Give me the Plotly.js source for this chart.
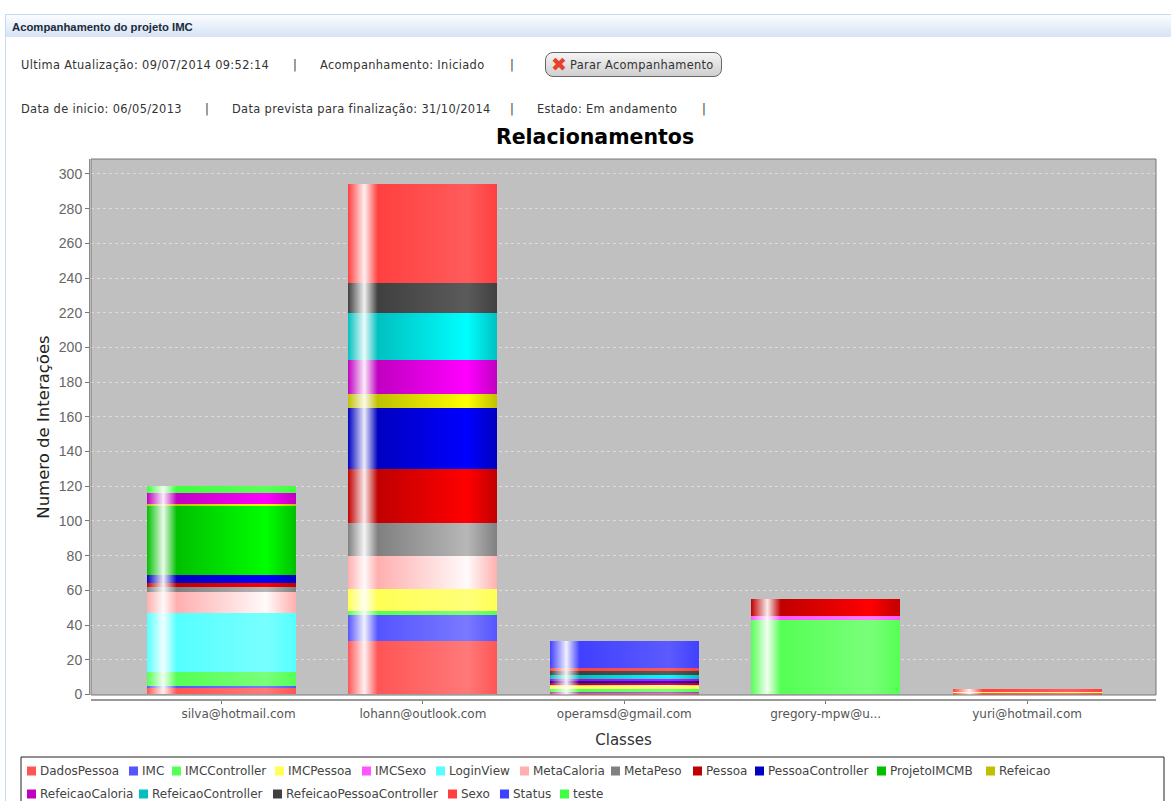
<!DOCTYPE html>
<html lang="pt">
<head>
<meta charset="utf-8">
<script src="https://cdn.plot.ly/plotly-3.0.1.min.js"></script>
<style>
html,body{margin:0;padding:0;background:#fff;width:1171px;height:801px;overflow:hidden;font-family:"DejaVu Sans",sans-serif}
#chart{position:absolute;left:0;top:0;width:1171px;height:801px}
.h{position:absolute;z-index:2;white-space:pre;font-size:11.4px;letter-spacing:.35px;color:#333;line-height:14px}
#panel{position:absolute;z-index:2;left:5px;top:14px;width:1166px;height:787px;border-left:1px solid #c5d9f0;border-top:1px solid #c5d9f0;box-sizing:border-box;pointer-events:none}
#bar{position:absolute;z-index:2;left:6px;top:15px;width:1165px;height:22px;background:linear-gradient(#fbfdff,#d5e3f4)}
#btn{position:absolute;z-index:2;left:545px;top:52px;width:177px;height:25px;box-sizing:border-box;border:1px solid #666;border-radius:8px;background:linear-gradient(#f4f4f4,#cfcfcf);font-size:11.4px;letter-spacing:.3px;color:#333;line-height:24px;padding-left:24px;white-space:pre}
#btn b{position:absolute;left:5px;top:0;color:#e8402a;font-size:19px;line-height:23px;letter-spacing:0}
</style>
</head>
<body>
<div id="chart"></div>
<div id="panel"></div>
<div id="bar"></div>
<div class="h" style="left:12px;top:20px;font-weight:bold;font-family:'Liberation Sans';font-size:11.3px;letter-spacing:0;color:#1c2a3a">Acompanhamento do projeto IMC</div>
<div class="h" style="left:21px;top:58px">Ultima Atualização: 09/07/2014 09:52:14</div>
<div class="h" style="left:293px;top:58px">|</div>
<div class="h" style="left:320px;top:58px">Acompanhamento: Iniciado</div>
<div class="h" style="left:510px;top:58px">|</div>
<div id="btn"><b>✖</b>Parar Acompanhamento</div>
<div class="h" style="left:21px;top:102px">Data de inicio: 06/05/2013</div>
<div class="h" style="left:205px;top:102px">|</div>
<div class="h" style="left:232px;top:102px">Data prevista para finalização: 31/10/2014</div>
<div class="h" style="left:510px;top:102px">|</div>
<div class="h" style="left:537px;top:102px">Estado: Em andamento</div>
<div class="h" style="left:702px;top:102px">|</div>
<script>
const classes = ['silva@hotmail.com','lohann@outlook.com','operamsd@gmail.com','gregory-mpw@u...','yuri@hotmail.com'];
const seriesNames = ['DadosPessoa','IMC','IMCController','IMCPessoa','IMCSexo','LoginView','MetaCaloria','MetaPeso','Pessoa','PessoaController','ProjetoIMCMB','Refeicao','RefeicaoCaloria','RefeicaoController','RefeicaoPessoaController','Sexo','Status','teste'];
const colors = ['#FF5555','#5555FF','#55FF55','#FFFF55','#FF55FF','#55FFFF','#FFAFAF','#808080','#C00000','#0000C0','#00C000','#C0C000','#C000C0','#00C0C0','#404040','#FF4040','#4040FF','#40FF40'];
const DadosPessoa = [4,31,1,0,1];
const IMC = [1,15,1,0,0];
const IMCController = [8,2,1,43,0];
const IMCPessoa = [0,13,2,0,1];
const IMCSexo = [0,0,0,2,0];
const LoginView = [34,0,0,0,0];
const MetaCaloria = [12,19,1,0,0];
const MetaPeso = [3,19,0,0,0];
const Pessoa = [2,31,1,10,0];
const PessoaController = [5,35,1,0,0];
const ProjetoIMCMB = [40,0,0,0,0];
const Refeicao = [1,8,0,0,0];
const RefeicaoCaloria = [6,20,1,0,0];
const RefeicaoController = [0,27,2,0,0];
const RefeicaoPessoaController = [0,17,3,0,0];
const Sexo = [0,57,1,0,1];
const Status = [0,0,16,0,0];
const teste = [4,0,0,0,0];
const seriesValues = [DadosPessoa,IMC,IMCController,IMCPessoa,IMCSexo,LoginView,MetaCaloria,MetaPeso,Pessoa,PessoaController,ProjetoIMCMB,Refeicao,RefeicaoCaloria,RefeicaoController,RefeicaoPessoaController,Sexo,Status,teste];

// page-pixel geometry of the figure
const W=1171,H=801,mL=89,mR=15,mT=159,mB=101;
const px=x=>(x-mL)/(W-mL-mR), py=y=>(H-mB-y)/(H-mT-mB);
const legendRows=[
 {y:771,items:[[0,27],[1,129],[2,172],[3,275],[4,362],[5,436],[6,520],[7,611],[8,693],[9,755],[10,877],[11,986]]},
 {y:794,items:[[12,27],[13,139],[14,273],[15,448],[16,500],[17,560]]}
];
const shapes=[
 {type:'rect',xref:'x domain',yref:'y domain',x0:0,x1:1,y0:0,y1:1,line:{color:'#777',width:1},layer:'above'},
 {type:'rect',xref:'paper',yref:'paper',x0:px(21),x1:px(1164),y0:py(757),y1:py(806),line:{color:'#222',width:1},fillcolor:'#fff'}
];
const annotations=[];
legendRows.forEach(r=>r.items.forEach(([i,x])=>{
  shapes.push({type:'rect',xref:'paper',yref:'paper',x0:px(x),x1:px(x+9),y0:py(r.y-4.5),y1:py(r.y+4.5),line:{width:0},fillcolor:colors[i]});
  annotations.push({xref:'paper',yref:'paper',x:px(x+11),y:py(r.y),xanchor:'left',yanchor:'middle',showarrow:false,text:seriesNames[i],font:{family:'DejaVu Sans',size:12,color:'#444'}});
}));

const traces=seriesNames.map((n,i)=>({type:'bar',name:n,x:classes,y:seriesValues[i],width:0.74,marker:{color:colors[i],line:{width:0}},hoverinfo:'x+y+name'}));
const layout={
 width:W,height:H,barmode:'stack',showlegend:false,
 paper_bgcolor:'#fff',plot_bgcolor:'#c0c0c0',
 margin:{l:mL,r:mR,t:mT,b:mB,pad:0},
 title:{text:'Relacionamentos',x:595/W,xref:'container',xanchor:'center',y:1-137/H,yref:'container',yanchor:'middle',font:{family:'DejaVu Sans',size:20.5,weight:'bold',color:'#000'}},
 xaxis:{type:'category',domain:[px(91),1],anchor:'free',position:0,range:[-0.648,4.64],showgrid:false,zeroline:false,
   showline:true,linecolor:'#999',linewidth:2,ticks:'outside',ticklen:3,tickcolor:'#777',
   tickfont:{family:'DejaVu Sans',size:12,color:'#555'},automargin:false,
   title:{text:'Classes',font:{family:'DejaVu Sans',size:15,color:'#333'},standoff:13}},
 yaxis:{domain:[py(695),1],anchor:'free',position:0,range:[-0.3,308.6],tickvals:[0,20,40,60,80,100,120,140,160,180,200,220,240,260,280,300],
   showgrid:true,gridcolor:'#dcdcdc',griddash:'dot',gridwidth:1,zeroline:false,
   showline:true,linecolor:'#888',linewidth:1,ticks:'outside',ticklen:4,tickcolor:'#777',
   tickfont:{family:'Liberation Sans',size:14,color:'#666'},automargin:false,
   title:{text:'Numero de Interações',font:{family:'DejaVu Sans',size:16.5,color:'#222'},standoff:4}},
 shapes,annotations,bargap:0
};

function brighter(hex){
  const v=[1,3,5].map(k=>parseInt(hex.substr(k,2),16));
  return 'rgb('+v.map(c=>Math.min(255,Math.round(c/0.7))).join(',')+')';
}
function mix(hex,t){
  const v=[1,3,5].map(k=>parseInt(hex.substr(k,2),16));
  return 'rgb('+v.map(c=>Math.round(c+(255-c)*t)).join(',')+')';
}
function applyGradients(gd){
  const svg=gd.querySelector('.main-svg'),NS='http://www.w3.org/2000/svg';
  let defs=svg.querySelector('defs#barGrad');
  if(defs)defs.remove();
  defs=document.createElementNS(NS,'defs');defs.id='barGrad';svg.insertBefore(defs,svg.firstChild);
  colors.forEach((c,i)=>{
    const g=document.createElementNS(NS,'linearGradient');
    g.id='bg'+i;g.setAttribute('x1','0');g.setAttribute('x2','1');g.setAttribute('y1','0');g.setAttribute('y2','0');
    [[0,c],[0.11,mix(c,0.92)],[0.2,c],[0.8,brighter(c)],[1,c]].forEach(([o,col])=>{
      const s=document.createElementNS(NS,'stop');s.setAttribute('offset',o);s.setAttribute('stop-color',col);g.appendChild(s);
    });
    defs.appendChild(g);
  });
  gd.querySelectorAll('.barlayer .trace').forEach((t,i)=>{
    t.querySelectorAll('path').forEach(p=>{p.style.fill='url(#bg'+i+')';});
  });
  const first=gd.querySelector('.xtick text');
  if(first)first.setAttribute('dx','17');
}
const gd=document.getElementById('chart');
Plotly.newPlot(gd,traces,layout,{displayModeBar:false,responsive:false}).then(()=>{
  applyGradients(gd);
  gd.on('plotly_afterplot',()=>applyGradients(gd));
});
</script>
</body>
</html>
